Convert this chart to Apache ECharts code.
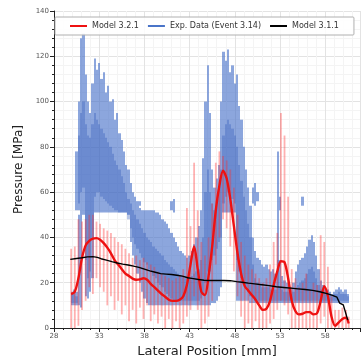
<!DOCTYPE html>
<html>
<head>
<meta charset="utf-8">
<script src="https://cdn.jsdelivr.net/npm/echarts@6/dist/echarts.min.js"></script>
<style>
  html, body { margin: 0; padding: 0; background: #fff; }
  #chart { width: 361px; height: 363px; }
</style>
</head>
<body>
<div id="chart"></div>
<script>
// exp. data: vertical ranges [x, low, high] (several may share one x)
const expRange = [
  [30.00,10,16],[30.25,10,17],[30.50,10,16],[30.50,52,78],[30.75,10,50],[30.75,52,100],
  [31.00,9,128],[31.25,50,130],[31.50,14,112],[31.75,13,100],[32.00,16,95],[32.25,22,108],
  [32.50,51,119],[32.75,51,114],[33.00,51,117],[33.25,51,110],[33.50,51,113],[33.75,51,104],
  [34.00,51,107],[34.25,51,100],[34.50,51,101],[34.75,51,92],[35.00,51,95],[35.25,51,86],
  [35.50,51,83],[35.75,51,78],[36.00,51,72],[36.25,50,70],[36.50,38,64],[36.75,32,60],
  [37.00,28,58],[37.25,24,56],[37.50,20,53],[37.50,54,56],[37.75,16,52],[38.00,13,52],
  [38.25,11,52],[38.50,10,52],[38.75,10,52],[39.00,10,52],[39.25,10,51],[39.50,10,51],
  [39.75,10,50],[40.00,10,48],[40.25,10,47],[40.50,10,46],[40.75,10,44],[41.00,10,42],
  [41.00,52,56],[41.25,10,40],[41.25,51,57],[41.50,10,38],[41.75,10,36],[42.00,10,34],
  [42.25,10,33],[42.50,10,32],[42.75,10,31],[43.00,10,32],[43.25,10,34],[43.50,10,37],
  [43.75,10,40],[44.00,10,45],[44.25,10,52],[44.50,10,75],[44.75,10,100],[45.00,10,116],
  [45.25,10,95],[45.50,11,70],[45.75,11,62],[46.00,12,66],[46.25,14,72],[46.50,18,100],
  [46.75,51,122],[47.00,51,118],[47.25,51,123],[47.50,51,113],[47.75,51,116],[48.00,51,108],
  [48.25,12,112],[48.50,12,98],[48.75,12,92],[49.00,12,80],[49.25,12,70],[49.50,12,62],
  [49.75,11,54],[50.00,11,40],[50.00,55,62],[50.25,11,34],[50.25,54,64],[50.50,11,31],
  [50.50,56,60],[50.75,11,30],[51.00,11,28],[51.25,11,27],[51.50,11,28],[51.75,11,26],
  [52.00,11,25],[52.25,11,26],[52.50,11,24],[52.75,11,78],[53.00,11,30],[53.00,52,58],
  [53.25,11,23],[53.50,11,21],[53.75,11,20],[54.00,11,19],[54.25,11,18],[54.50,11,20],
  [54.75,11,25],[55.00,11,28],[55.25,11,30],[55.50,11,31],[55.50,54,58],[55.75,11,33],
  [56.00,11,36],[56.25,11,39],[56.50,11,41],[56.75,11,38],[57.00,11,32],[57.25,11,26],
  [57.50,11,21],[57.75,11,19],[58.00,11,18],[58.25,11,17],[58.50,11,16],[58.75,11,15],
  [59.00,11,16],[59.25,11,17],[59.50,11,18],[59.75,11,17],[60.00,11,16],[60.25,11,17],
  [60.50,11,15]
];

// denser core of the exp. data
const expCore = [
  [30.00,11,15],[30.25,11,15],[30.50,11,14],[30.75,55,85],[31.00,60,95],[31.25,62,100],
  [31.50,30,90],[31.75,22,85],[32.00,25,84],[32.25,40,90],[32.50,58,95],[32.75,60,92],
  [33.00,60,90],[33.25,58,88],[33.50,57,86],[33.75,56,84],[34.00,55,82],[34.25,54,80],
  [34.50,53,77],[34.75,52,74],[35.00,52,72],[35.25,51,70],[35.50,51,67],[35.75,51,64],
  [36.00,51,60],[36.25,48,57],[36.50,44,55],[36.75,40,52],[37.00,37,50],[37.25,35,48],
  [37.50,33,46],[37.75,31,44],[38.00,29,42],[38.25,28,40],[38.50,26,39],[38.75,25,38],
  [39.00,23,36],[39.25,22,35],[39.50,20,34],[39.75,19,33],[40.00,18,32],[40.25,16,30],
  [40.50,15,29],[40.75,14,28],[41.00,13,27],[41.25,12,26],[41.50,12,25],[41.75,12,24],
  [42.00,12,23],[42.25,12,23],[42.50,12,22],[42.75,12,22],[43.00,12,22],[43.25,12,23],
  [43.50,12,24],[43.75,12,25],[44.00,12,26],[44.25,13,30],[44.50,15,40],[44.75,20,60],
  [45.00,25,70],[45.25,25,60],[45.50,30,55],[45.75,32,52],[46.00,35,56],[46.25,38,62],
  [46.50,40,70],[46.75,55,85],[47.00,58,90],[47.25,60,92],[47.50,58,90],[47.75,57,88],
  [48.00,55,85],[48.25,30,80],[48.50,25,72],[48.75,22,65],[49.00,20,58],[49.25,18,52],
  [49.50,16,46],[49.75,14,40],[50.00,13,28],[50.25,12,22],[50.50,12,20],[50.75,12,19],
  [51.00,12,18],[51.25,12,18],[51.50,12,18],[51.75,12,18],[52.00,12,17],[52.25,12,18],
  [52.50,12,17],[52.75,12,30],[53.00,12,18],[53.25,12,17],[53.50,12,16],[53.75,12,16],
  [54.00,12,16],[54.25,12,15],[54.50,12,16],[54.75,12,18],[55.00,12,19],[55.25,12,20],
  [55.50,12,21],[55.75,12,22],[56.00,12,24],[56.25,12,26],[56.50,12,27],[56.75,12,25],
  [57.00,12,22],[57.25,12,19],[57.50,12,17],[57.75,12,16],[58.00,12,16],[58.25,12,15],
  [58.50,12,15],[58.75,12,14],[59.00,12,15],[59.25,12,15],[59.50,12,16],[59.75,12,15],
  [60.00,12,15],[60.25,12,15],[60.50,12,14]
];

// Model 3.2.1: [x, value]
const model321 = [
  [29.9,15],[30.3,16],[30.7,22],[31.1,31],[31.5,36.5],[31.9,38.5],[32.3,39.5],[32.7,39.7],
  [33.1,39],[33.5,37.5],[33.9,35.5],[34.3,33],[34.7,30],[35.1,28],[35.5,26],[35.9,24],
  [36.3,23],[36.7,21.8],[37.1,21.3],[37.5,21.5],[37.9,22],[38.3,21.3],[38.7,19.5],[39.1,18],
  [39.5,16.5],[39.9,15],[40.3,13.8],[40.7,12.5],[41.1,12],[41.5,12],[41.9,12.5],[42.3,14],
  [42.7,19],[43.1,28],[43.5,36],[43.9,26],[44.3,16],[44.7,14.5],[45.1,23],[45.5,36],
  [45.9,52],[46.3,63],[46.7,69.5],[47.1,66],[47.5,57],[47.9,45],[48.3,33],[48.7,24],
  [49.1,18.5],[49.5,16.5],[49.9,14.5],[50.3,12.5],[50.7,10],[51.1,8],[51.5,8.5],[51.9,12],
  [52.3,19],[52.7,25],[53.1,29.5],[53.5,29],[53.9,22],[54.3,12],[54.7,7.5],[55.1,6],
  [55.5,6.3],[55.9,7],[56.3,7],[56.7,6],[57.1,6.5],[57.5,12],[57.9,18.5],[58.3,14],
  [58.7,5],[59.1,1],[59.5,2.5],[59.9,4],[60.3,4.5],[60.6,2]
];

// Model 3.2.1 error bars: [x, low, high]
const model321Err = [
  [29.9,0,35],[30.3,0,36],[30.7,1,48],[31.1,8,47],[31.5,12,48],[31.9,18,50],[32.3,15,50],[32.7,22,47],
  [33.1,18,46],[33.5,16,44],[33.9,10,43],[34.3,14,42],[34.7,8,40],[35.1,12,38],[35.5,6,37],[35.9,10,35],
  [36.3,3,33],[36.7,8,31],[37.1,2,32],[37.5,9,30],[37.9,4,31],[38.3,10,29],[38.7,3,28],[39.1,6,27],
  [39.5,2,25],[39.9,5,24],[40.3,0,23],[40.7,4,22],[41.1,0,21],[41.5,3,22],[41.9,0,23],[42.3,2,26],
  [42.7,5,53],[43.1,8,45],[43.5,14,73],[43.9,8,52],[44.3,0,38],[44.7,2,32],[45.1,5,40],[45.5,12,55],
  [45.9,28,73],[46.3,40,78],[46.7,48,76],[47.1,44,74],[47.5,36,70],[47.9,25,62],[48.3,14,50],[48.7,5,38],
  [49.1,0,32],[49.5,2,28],[49.9,0,26],[50.3,3,24],[50.7,0,22],[51.1,0,20],[51.5,0,22],[51.9,2,28],
  [52.3,4,38],[52.7,8,42],[53.1,12,95],[53.5,10,85],[53.9,6,58],[54.3,0,26],[54.7,0,22],[55.1,0,18],
  [55.5,0,20],[55.9,0,24],[56.3,0,17],[56.7,0,20],[57.1,0,19],[57.5,2,41],[57.9,5,38],[58.3,0,27],
  [58.7,0,14],[59.1,0,8],[59.5,0,8],[59.9,0,9],[60.3,0,8],[60.6,0,5]
];

// Model 3.1.1: [x, value]
const model311 = [
  [29.8,30.3],[30.5,30.7],[31.1,31],[31.7,31.4],[32.3,31.5],[32.8,31.2],[33.2,30.6],[33.8,30],
  [34.4,29.3],[35.0,28.7],[35.6,28.2],[36.2,27.8],[36.8,27.3],[37.4,26.8],[38.0,26.0],[38.6,25.2],
  [39.2,24.6],[39.8,24.0],[40.4,23.8],[41.0,23.6],[41.6,23.3],[42.2,22.9],[42.8,22.2],[43.4,21.8],
  [44.0,21.4],[44.6,21.1],[45.2,21],[46.0,21],[46.8,21],[47.5,20.9],[48.2,20.5],[48.8,20.2],
  [49.5,19.8],[50.2,19.5],[51.0,19.1],[51.8,18.7],[52.6,18.2],[53.4,17.9],[54.2,17.6],[55.0,17.3],
  [55.8,17.0],[56.6,16.6],[57.4,16.0],[58.2,15.2],[58.8,14.4],[59.3,13.6],[59.6,11],[60.0,10.2],
  [60.2,9.8],[60.5,3.5]
];

const xTicks = { min: 28, max: 61.85, step: 5 };
const yTicks = { min: 0, max: 140, step: 20 };
const expStep = 0.25; // spacing of the exp. data columns (mm)

const FONT = 'DejaVu Sans';

// exp. data columns as pixel-snapped rects, so neighbours meet without gaps
function columnRenderer (color)
{
    return function (params, api)
    {
        var x = api.value(0);
        var left = api.coord([x - expStep / 2, api.value(2)]);
        var right = api.coord([x + expStep / 2, api.value(1)]);
        var x0 = Math.round(left[0]), x1 = Math.round(right[0]);
        return {
            type: 'rect',
            shape: { x: x0, y: left[1], width: x1 - x0, height: right[1] - left[1] },
            style: { fill: color }
        };
    };
}

function segRenderer (color, width)
{
    return function (params, api)
    {
        var p1 = api.coord([api.value(0), api.value(1)]);
        var p2 = api.coord([api.value(0), api.value(2)]);
        return {
            type: 'line',
            shape: { x1: p1[0], y1: p1[1], x2: p2[0], y2: p2[1] },
            style: { stroke: color, lineWidth: width }
        };
    };
}

var myChart = echarts.init(document.getElementById('chart'));

var option = {
    animation: false,
    textStyle: { fontFamily: FONT },
    grid: { left: 54, right: 1, top: 11, bottom: 32 },
    legend: {
        top: 17,
        left: 55,
        right: 0,
        padding: [5, 15],
        itemWidth: 17,
        itemHeight: 2,
        itemGap: 9,
        borderColor: '#b0b0b0',
        borderWidth: 1,
        borderRadius: 1,
        backgroundColor: 'rgba(255,255,255,0.85)',
        textStyle: { fontSize: 8, color: '#333', fontFamily: FONT },
        data: [
            { name: 'Model 3.2.1', icon: 'rect', itemStyle: { color: '#ee1111' } },
            { name: 'Exp. Data (Event 3.14)', icon: 'rect', itemStyle: { color: '#4a74c8' } },
            { name: 'Model 3.1.1', icon: 'rect', itemStyle: { color: '#000' } }
        ]
    },
    xAxis: {
        type: 'value',
        min: xTicks.min,
        max: xTicks.max,
        interval: xTicks.step,
        name: 'Lateral Position [mm]',
        nameLocation: 'middle',
        nameGap: 17,
        nameTextStyle: { fontSize: 13, color: '#222', fontFamily: FONT },
        axisLine: { lineStyle: { color: '#222', width: 1 } },
        axisTick: { show: true, length: 4, lineStyle: { color: '#222' } },
        minorTick: { show: true, splitNumber: 5, length: 2, lineStyle: { color: '#222' } },
        axisLabel: { fontSize: 7, color: '#555', margin: 5, showMaxLabel: false },
        splitLine: { show: true, lineStyle: { color: '#e3e3e3', width: 1 } },
        minorSplitLine: { show: true, lineStyle: { color: '#f4f4f4', width: 1 } }
    },
    yAxis: {
        type: 'value',
        min: yTicks.min,
        max: yTicks.max,
        interval: yTicks.step,
        name: 'Pressure [MPa]',
        nameLocation: 'middle',
        nameGap: 21,
        nameTextStyle: { fontSize: 12, color: '#222', fontFamily: FONT },
        axisLine: { show: true, lineStyle: { color: '#222', width: 1 } },
        axisTick: { show: true, length: 4, lineStyle: { color: '#222' } },
        minorTick: { show: true, splitNumber: 5, length: 2, lineStyle: { color: '#222' } },
        axisLabel: { fontSize: 7, color: '#555', margin: 5 },
        splitLine: { show: true, lineStyle: { color: '#e3e3e3', width: 1 } },
        minorSplitLine: { show: true, lineStyle: { color: '#f4f4f4', width: 1 } }
    },
    series: [
        {
            name: 'Exp. Data (Event 3.14)',
            type: 'custom',
            silent: true,
            z: 1,
            renderItem: columnRenderer('rgba(70,112,200,0.62)'),
            encode: { x: 0, y: [1, 2] },
            data: expRange
        },
        {
            name: 'Exp. Data (Event 3.14)',
            type: 'custom',
            silent: true,
            z: 2,
            renderItem: columnRenderer('rgba(50,90,185,0.35)'),
            encode: { x: 0, y: [1, 2] },
            data: expCore
        },
        {
            name: 'Model 3.2.1',
            type: 'custom',
            silent: true,
            z: 3,
            renderItem: segRenderer('rgba(255,50,50,0.38)', 1.8),
            encode: { x: 0, y: [1, 2] },
            data: model321Err
        },
        {
            name: 'Model 3.2.1',
            type: 'line',
            z: 4,
            smooth: 0.3,
            showSymbol: false,
            lineStyle: { color: '#ee1111', width: 2.4 },
            itemStyle: { color: '#ee1111' },
            data: model321
        },
        {
            name: 'Model 3.1.1',
            type: 'line',
            z: 5,
            showSymbol: false,
            lineStyle: { color: '#000', width: 1.4 },
            itemStyle: { color: '#000' },
            data: model311
        }
    ]
};

myChart.setOption(option);
</script>
</body>
</html>
